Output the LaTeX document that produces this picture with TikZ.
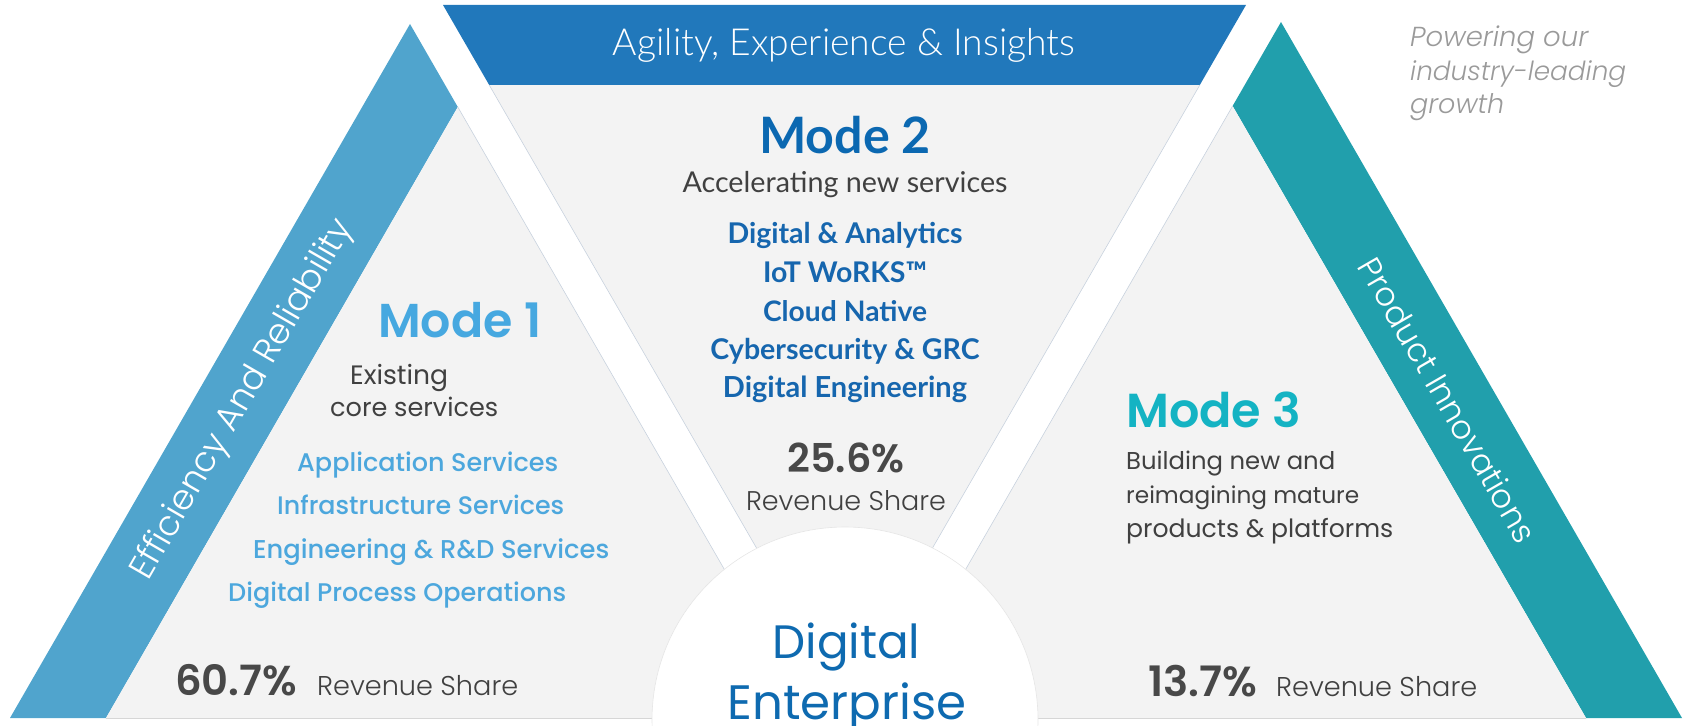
\documentclass[tikz,border=0pt]{standalone}
\usepackage{fontspec}
\usepackage{graphicx}
\newfontfamily\popL{Poppins Light}
\newfontfamily\popR{Poppins}
\newfontfamily\popM{Poppins Medium}
\newfontfamily\popSB{Poppins SemiBold}
\newfontfamily\popLI{Poppins Light Italic}
\newfontfamily\latoR{Lato}
\newfontfamily\latoB{Lato Bold}
\newfontfamily\latoL{Lato Light}
\definecolor{bandA}{RGB}{80,164,205}
\definecolor{barB}{RGB}{33,120,187}
\definecolor{bandC}{RGB}{33,159,172}
\definecolor{grayfill}{RGB}{243,243,243}
\definecolor{edgecol}{RGB}{200,210,222}
\definecolor{basecol}{RGB}{214,214,214}
\definecolor{modeA}{RGB}{70,168,224}
\definecolor{svcA}{RGB}{76,167,221}
\definecolor{modeB}{RGB}{11,104,177}
\definecolor{svcB}{RGB}{22,102,174}
\definecolor{modeC}{RGB}{20,179,195}
\definecolor{darktxt}{RGB}{64,64,64}
\definecolor{pcttxt}{RGB}{72,72,72}
\definecolor{powtxt}{RGB}{154,154,154}
\definecolor{enttxt}{RGB}{14,106,176}
\newcommand{\fw}[2]{\resizebox{#1pt}{!}{#2}}
\begin{document}
\begin{tikzpicture}[x=1pt,y=-1pt,
  lft/.style={inner sep=0pt, anchor=base west},
  ctr/.style={inner sep=0pt, anchor=base},
  edgeline/.style={draw=edgecol, line width=0.6pt}]
\useasboundingbox (0,0) rectangle (1685,725);
% shapes
\fill[bandA] (410,24) -- (10,718) -- (106,718) -- (457.8,107) -- cycle;
\fill[grayfill] (457.8,107) -- (106,718) -- (810,718) -- cycle;
\fill[barB] (443,5) -- (1246,5) -- (1199.8,85) -- (489.2,85) -- cycle;
\fill[grayfill] (489.2,85) -- (1199.8,85) -- (844.5,700.4) -- cycle;
\fill[bandC] (1281,22) -- (1682,718) -- (1586,718) -- (1232.6,106) -- cycle;
\fill[grayfill] (1232.6,106) -- (880,718) -- (1586,718) -- cycle;
\draw[edgeline] (457.8,107) -- (810,718);
\draw[edgeline] (489.2,85) -- (844.5,700.4) -- (1199.8,85);
\draw[edgeline] (1232.6,106) -- (880,718);
\draw[draw=basecol, line width=1pt] (106,718.5) -- (1586,718.5);
\fill[white] (845,720) circle (193);
\draw[draw=basecol!60, line width=0.6pt] (845,720) circle (193);
% band texts
\node[inner sep=0pt, rotate=60, text=white] (eff) at (243,400) {\fw{410}{\popL Efficiency And Reliability}};
\node[inner sep=0pt, rotate=-60, text=white] (prod) at (1448,400) {\fw{322}{\popL Product Innovations}};
\node[ctr, text=white] (agil) at (844,56) {\fw{462}{\latoL Agility, Experience \& Insights}};
% mode 1
\node[lft, text=modeA] (m1) at (378,337) {\fw{163}{\popSB Mode 1}};
\node[lft, text=darktxt] (m1a) at (350,384) {\fw{98}{\popR Existing}};
\node[lft, text=darktxt] (m1b) at (330,416) {\fw{168}{\popR core services}};
\node[lft, text=svcA] (s11) at (297,471) {\fw{261}{\popM Application Services}};
\node[lft, text=svcA] (s12) at (277,514) {\fw{287}{\popM Infrastructure Services}};
\node[lft, text=svcA] (s13) at (253,558) {\fw{356}{\popM Engineering \& R\&D Services}};
\node[lft, text=svcA] (s14) at (228,601) {\fw{338}{\popM Digital Process Operations}};
\node[lft, text=pcttxt] (p1) at (175,695) {\fw{122}{\popSB 60.7\%}};
\node[lft, text=darktxt] (r1) at (317,695) {\fw{201}{\popL Revenue Share}};
% mode 2
\node[ctr, text=modeB] (m2) at (845,153) {\fw{172}{\latoB Mode 2}};
\node[ctr, text=darktxt] (m2a) at (845,192) {\fw{325}{\latoR Accelerating new services}};
\node[ctr, text=svcB] (s21) at (845,243) {\fw{235}{\latoB Digital \& Analytics}};
\node[ctr, text=svcB] (s22) at (845,282) {\fw{164}{\latoB IoT WoRKS™}};
\node[ctr, text=svcB] (s23) at (845,321) {\fw{164}{\latoB Cloud Native}};
\node[ctr, text=svcB] (s24) at (845,359) {\fw{269}{\latoB Cybersecurity \& GRC}};
\node[ctr, text=svcB] (s25) at (845,397) {\fw{244}{\latoB Digital Engineering}};
\node[ctr, text=pcttxt] (p2) at (846,472) {\fw{117}{\popSB 25.6\%}};
\node[ctr, text=darktxt] (r2) at (846,510) {\fw{200}{\popL Revenue Share}};
% mode 3
\node[lft, text=modeC] (m3) at (1126,427) {\fw{175}{\popSB Mode 3}};
\node[lft, text=darktxt] (m3a) at (1126,469) {\fw{209}{\popR Building new and}};
\node[lft, text=darktxt] (m3b) at (1126,503) {\fw{233}{\popR reimagining mature}};
\node[lft, text=darktxt] (m3c) at (1126,537) {\fw{267}{\popR products \& platforms}};
\node[lft, text=pcttxt] (p3) at (1148,696) {\fw{109}{\popSB 13.7\%}};
\node[lft, text=darktxt] (r3) at (1276,696) {\fw{201}{\popL Revenue Share}};
% powering
\node[lft, text=powtxt] (pw1) at (1410,47) {\fw{178}{\popLI Powering our}};
\node[lft, text=powtxt] (pw2) at (1410,80) {\fw{216}{\popLI industry-leading}};
\node[lft, text=powtxt] (pw3) at (1410,113) {\fw{94}{\popLI growth}};
% digital enterprise
\node[ctr, text=enttxt] (de1) at (846.5,658) {\fw{148}{\popR Digital}};
\node[ctr, text=enttxt] (de2) at (847,719) {\fw{239}{\popR Enterprise}};
\end{tikzpicture}
\end{document}
